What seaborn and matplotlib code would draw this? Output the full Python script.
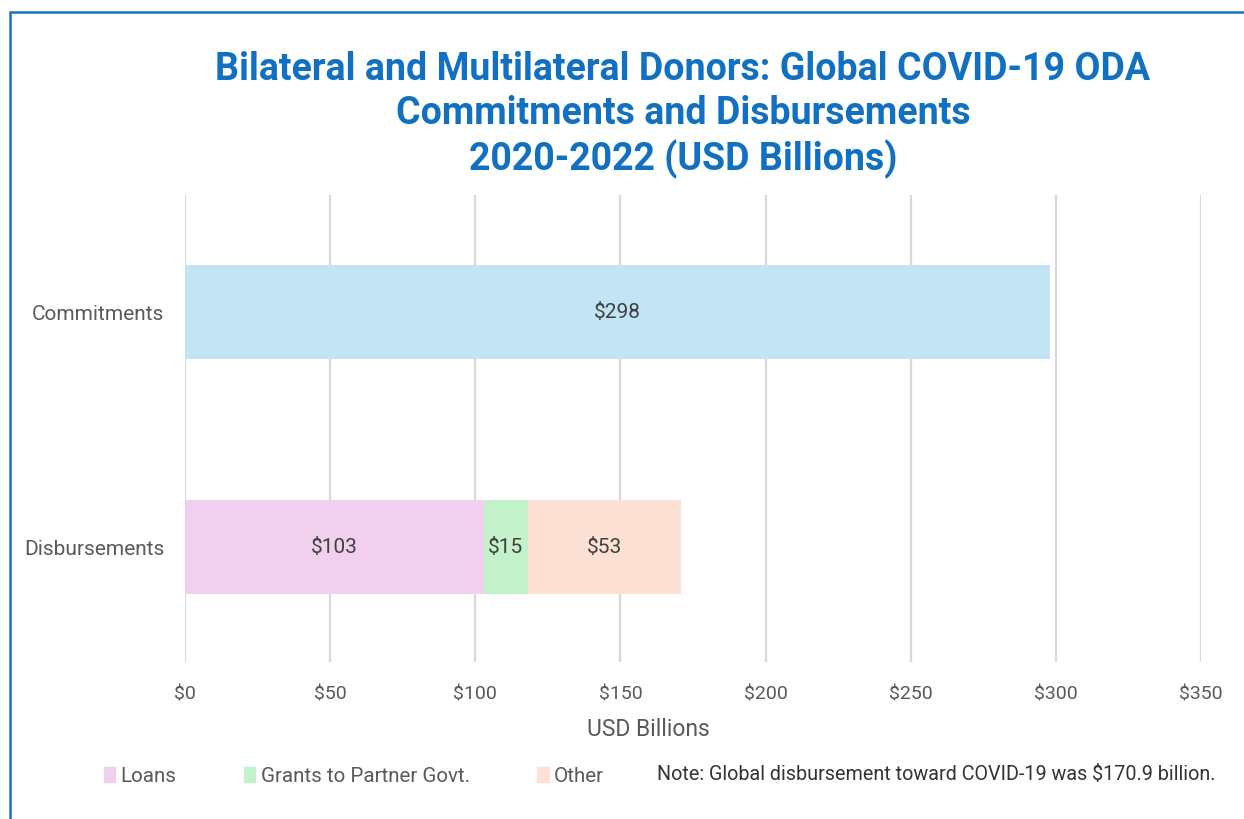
import matplotlib
matplotlib.use("Agg")
import matplotlib.pyplot as plt
import matplotlib.patches as mpatches
import matplotlib.ticker as mticker
import seaborn as sns
import pandas as pd

# Data (USD billions)
categories = ["Commitments", "Disbursements"]
commitments = [298, 0]
loans = [0, 103]
grants = [0, 15]
other = [0, 53]
segment_names = ["Loans", "Grants to Partner Govt.", "Other"]
xticks = [0, 50, 100, 150, 200, 250, 300, 350]

c_commit = "#c2e4f4"
c_loans = "#f1cfee"
c_grants = "#c3f1c9"
c_other = "#fce1d4"
title_blue = "#1170c1"
grey_text = "#595959"

sns.set_theme(style="white")
plt.rcParams["font.family"] = ["Roboto", "DejaVu Sans"]

fig = plt.figure(figsize=(12.44, 8.19), dpi=100)
ax = fig.add_axes([185 / 1244, 157 / 819, 1016 / 1244, 467 / 819])

df = pd.DataFrame({
    "category": categories,
    "commit": commitments,
    "loans": loans,
    "grants": grants,
    "other": other,
})
df["cum_grants"] = df["loans"] + df["grants"]
df["cum_other"] = df["cum_grants"] + df["other"]

bar_h = 0.4
# Stacked disbursement bar drawn as overlapping cumulative bars
sns.barplot(data=df, y="category", x="cum_other", color=c_other, orient="h",
            width=bar_h, ax=ax, saturation=1, linewidth=0)
sns.barplot(data=df, y="category", x="cum_grants", color=c_grants, orient="h",
            width=bar_h, ax=ax, saturation=1, linewidth=0)
sns.barplot(data=df, y="category", x="loans", color=c_loans, orient="h",
            width=bar_h, ax=ax, saturation=1, linewidth=0)
sns.barplot(data=df, y="category", x="commit", color=c_commit, orient="h",
            width=bar_h, ax=ax, saturation=1, linewidth=0)

# Value labels centred in each segment
lab_kw = dict(ha="center", va="center", fontsize=15, color="#404040")
ax.text(commitments[0] / 2, 0, f"${commitments[0]}", **lab_kw)
starts = [0, loans[1], loans[1] + grants[1]]
for start, val in zip(starts, [loans[1], grants[1], other[1]]):
    ax.text(start + val / 2, 1, f"${val}", **lab_kw)

ax.set_xlim(0, 350)
ax.set_ylim(1.49, -0.5)
ax.set_xticks(xticks)
ax.xaxis.set_major_formatter(mticker.FuncFormatter(lambda v, p: f"${v:.0f}"))
ax.grid(axis="x", color="#d9d9d9", linewidth=1.6)
ax.set_axisbelow(True)
for s in ax.spines.values():
    s.set_visible(False)
ax.tick_params(axis="x", length=0, pad=17, labelsize=14, labelcolor=grey_text)
ax.tick_params(axis="y", length=0, pad=15, labelsize=15, labelcolor=grey_text)
ax.set_ylabel("")
ax.set_xlabel("USD Billions", fontsize=16.5, color=grey_text)
ax.xaxis.set_label_coords((648 - 185) / 1016, -0.12)

# Title
title_kw = dict(ha="center", va="center", fontsize=27, fontweight="bold", color=title_blue)
fig.text(683 / 1244, 1 - 70 / 819, "Bilateral and Multilateral Donors: Global COVID-19 ODA", **title_kw)
fig.text(683 / 1244, 1 - 114 / 819, "Commitments and Disbursements", **title_kw)
fig.text(683 / 1244, 1 - 159 / 819, "2020-2022 (USD Billions)", **title_kw)

# Legend
handles = [mpatches.Patch(color=c) for c in (c_loans, c_grants, c_other)]
fig.legend(handles, segment_names, loc="center left",
           bbox_to_anchor=(104 / 1244, 1 - 776 / 819), ncol=3, frameon=False,
           fontsize=14.8, labelcolor=grey_text, handlelength=0.55, handleheight=0.7,
           handletextpad=0.25, columnspacing=3.3, borderaxespad=0, borderpad=0)

fig.text(657 / 1244, 1 - 775 / 819,
         "Note: Global disbursement toward COVID-19 was $170.9 billion.",
         ha="left", va="center", fontsize=14.2, color="#333333")

# Outer frame (left and top edges visible)
frame = mpatches.Rectangle((10 / 1244, -0.1), 1.2, 1 - 12 / 819 + 0.1,
                           transform=fig.transFigure, fill=False,
                           edgecolor="#1a73c2", linewidth=1.8, clip_on=False)
fig.patches.append(frame)

fig.savefig("out.png", dpi=100)
